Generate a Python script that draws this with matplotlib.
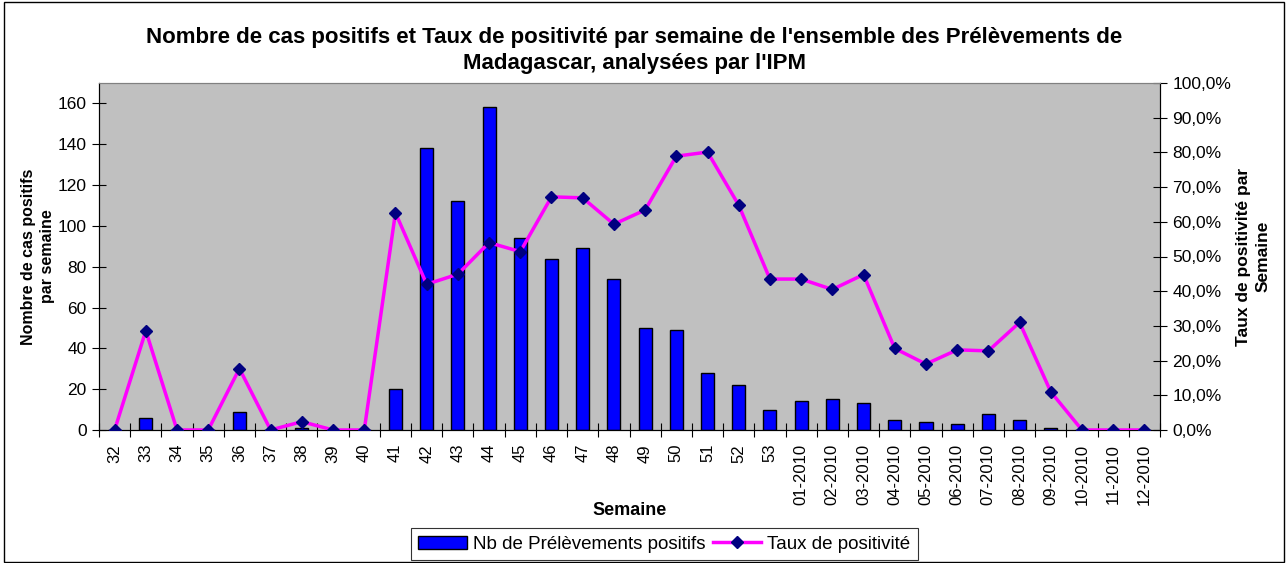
import matplotlib.pyplot as plt
import numpy as np
from matplotlib.ticker import FuncFormatter

plt.rcParams['font.family'] = ['Liberation Sans', 'DejaVu Sans']

# semaines
semaines = ['32', '33', '34', '35', '36', '37', '38', '39', '40', '41', '42', '43',
            '44', '45', '46', '47', '48', '49', '50', '51', '52', '53',
            '01-2010', '02-2010', '03-2010', '04-2010', '05-2010', '06-2010',
            '07-2010', '08-2010', '09-2010', '10-2010', '11-2010', '12-2010']

# nombre de prelevements positifs
nb_positifs = [0, 6, 0, 0, 9, 0, 1, 0, 0, 20, 138, 112,
               158, 94, 84, 89, 74, 50, 49, 28, 22, 10,
               14, 15, 13, 5, 4, 3, 8, 5, 1, 0, 0, 0]

# taux de positivite (%)
taux = [0, 28.6, 0, 0, 17.7, 0, 2.4, 0, 0, 62.6, 42.0, 44.9,
        54.0, 51.4, 67.2, 66.9, 59.3, 63.4, 78.9, 80.1, 64.8, 43.5,
        43.5, 40.5, 44.8, 23.5, 19.0, 23.1, 22.8, 31.0, 11.0, 0, 0, 0]

x = np.arange(len(semaines))

fig = plt.figure(figsize=(12.87, 5.63), dpi=100)
ax = fig.add_axes([99 / 1287, 1 - 430 / 563, (1160 - 99) / 1287, (430 - 83) / 563])
ax.set_facecolor('#C0C0C0')

ax.bar(x, nb_positifs, width=0.42, color='#0000FF', edgecolor='black', linewidth=1,
       label='Nb de Prélèvements positifs', zorder=2)
ax.set_xlim(-0.5, len(semaines) - 0.5)
ax.set_ylim(0, 170)
ax.set_yticks(np.arange(0, 161, 20))
ax.set_xticks(x)
ax.set_xticklabels(semaines, rotation=90, fontsize=12)
ax.set_xticks(np.arange(-0.5, len(semaines), 1), minor=True)
ax.tick_params(axis='x', which='major', length=0, pad=10)
ax.tick_params(axis='x', which='minor', length=10, direction='inout', width=0.8)
ax.tick_params(axis='y', length=10, direction='inout', width=0.8, labelsize=12.5, pad=4)
ax.spines['top'].set_color('#808080')
ax.set_xlabel('Semaine', fontsize=13, fontweight='bold', labelpad=-2)
ax.set_ylabel('Nombre de cas positifs\npar semaine', fontsize=11.5, fontweight='bold',
              labelpad=2, linespacing=1.3)

ax2 = ax.twinx()
ax2.plot(x, taux, color='#FF00FF', linewidth=2.5, marker='D', markersize=6.5,
         markerfacecolor='#000080', markeredgecolor='#000080', label='Taux de positivité',
         zorder=3)
ax2.set_ylim(0, 100)
ax2.set_yticks(np.arange(0, 101, 10))
ax2.yaxis.set_major_formatter(FuncFormatter(lambda v, p: f'{v:.1f}%'.replace('.', ',')))
ax2.tick_params(axis='y', length=10, direction='inout', width=0.8, labelsize=12.5, pad=4)
ax2.spines['top'].set_color('#808080')
ax2.set_ylabel('Taux de positivité par\nSemaine', fontsize=12.5, fontweight='bold',
               labelpad=3, linespacing=1.45)

fig.suptitle("Nombre de cas positifs et Taux de positivité par semaine de l'ensemble des "
             "Prélèvements de\nMadagascar, analysées par l'IPM",
             fontsize=16, fontweight='bold', y=0.952, x=0.493, linespacing=1.3)

h1, l1 = ax.get_legend_handles_labels()
h2, l2 = ax2.get_legend_handles_labels()
leg = fig.legend(h1 + h2, l1 + l2, loc='lower center', ncol=2, bbox_to_anchor=(0.516, -0.012),
                 fontsize=13.5, frameon=True, fancybox=False, edgecolor='black',
                 handlelength=2.6, columnspacing=0.4, handletextpad=0.3, borderpad=0.4)
leg.get_frame().set_linewidth(0.8)

# cadre exterieur
fig.patches.append(plt.Rectangle((0.003, 0.002), 0.995, 0.994, transform=fig.transFigure,
                                 fill=False, edgecolor='black', linewidth=1))

fig.savefig('out.png', dpi=100)
